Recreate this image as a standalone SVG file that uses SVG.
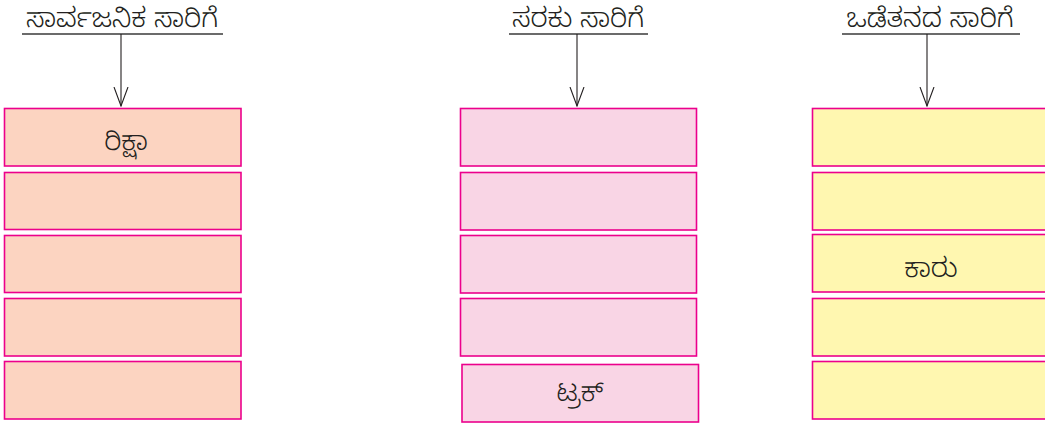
<svg xmlns="http://www.w3.org/2000/svg" width="1045" height="428" viewBox="0 0 1045 428">
<style>
.t{font-family:"Noto Sans Kannada","Noto Sans","DejaVu Sans",sans-serif;font-size:27px;font-weight:300;fill:#231f20;text-anchor:middle}
.l{font-family:"Noto Sans Kannada","Noto Sans","DejaVu Sans",sans-serif;font-size:27px;font-weight:300;fill:#231f20;text-anchor:middle}
.b{stroke:#ec008c;stroke-width:1.6}
.a{fill:#fcd4c1}.p{fill:#f9d5e5}.y{fill:#fff7b0}
.ul{stroke:#3a3a3a;stroke-width:1.3}
.ar{stroke:#231f20;stroke-width:1.1;fill:none}
</style>
<defs>
<marker id="v" markerWidth="20" markerHeight="16" refX="19" refY="8" orient="auto" markerUnits="userSpaceOnUse" viewBox="0 0 20 16">
<path d="M0,1 L19,8 L0,15" fill="none" stroke="#231f20" stroke-width="1.1"/>
</marker>
</defs>
<g id="head-public">
<text class="t" x="122" y="27">ಸಾರ್ವಜನಿಕ ಸಾರಿಗೆ</text>
<line class="ul" x1="22" y1="34" x2="223" y2="34"/>
</g>
<g id="head-goods">
<text class="t" x="578" y="27">ಸರಕು ಸಾರಿಗೆ</text>
<line class="ul" x1="509" y1="34" x2="648" y2="34"/>
</g>
<g id="head-own">
<text class="t" x="930" y="27">ಒಡೆತನದ ಸಾರಿಗೆ</text>
<line class="ul" x1="842" y1="34" x2="1020" y2="34"/>
</g>
<g id="connectors">
<line class="ar" x1="121" y1="34" x2="121" y2="106" marker-end="url(#v)"/>
<line class="ar" x1="577" y1="34" x2="577" y2="106" marker-end="url(#v)"/>
<line class="ar" x1="927" y1="34" x2="927" y2="106" marker-end="url(#v)"/>
</g>
<g id="col-public">
<g id="p1"><rect class="b a" x="4.5" y="108.5" width="236.5" height="57.5"/><text class="l" x="126" y="150">ರಿಕ್ಷಾ</text></g>
<g id="p2"><rect class="b a" x="4.5" y="172.5" width="236.5" height="57"/></g>
<g id="p3"><rect class="b a" x="4.5" y="235.5" width="236.5" height="57"/></g>
<g id="p4"><rect class="b a" x="4.5" y="298.5" width="236.5" height="57.5"/></g>
<g id="p5"><rect class="b a" x="4.5" y="361.5" width="236.5" height="57.5"/></g>
</g>
<g id="col-goods">
<g id="g1"><rect class="b p" x="460.5" y="108.5" width="236" height="57.5"/></g>
<g id="g2"><rect class="b p" x="460.5" y="172.5" width="236" height="57.5"/></g>
<g id="g3"><rect class="b p" x="460.5" y="235.5" width="236" height="57.5"/></g>
<g id="g4"><rect class="b p" x="460.5" y="298.5" width="236" height="57.5"/></g>
<g id="g5"><rect class="b p" x="462" y="364.5" width="236.5" height="57.5"/><text class="l" x="580" y="401">ಟ್ರಕ್</text></g>
</g>
<g id="col-own">
<g id="o1"><rect class="b y" x="812.5" y="108.5" width="240" height="57.5"/></g>
<g id="o2"><rect class="b y" x="812.5" y="172.5" width="240" height="57.5"/></g>
<g id="o3"><rect class="b y" x="812.5" y="234.5" width="240" height="57.5"/><text class="l" x="931" y="277">ಕಾರು</text></g>
<g id="o4"><rect class="b y" x="812.5" y="298.5" width="240" height="57.5"/></g>
<g id="o5"><rect class="b y" x="812.5" y="361.5" width="240" height="57.5"/></g>
</g>
</svg>
